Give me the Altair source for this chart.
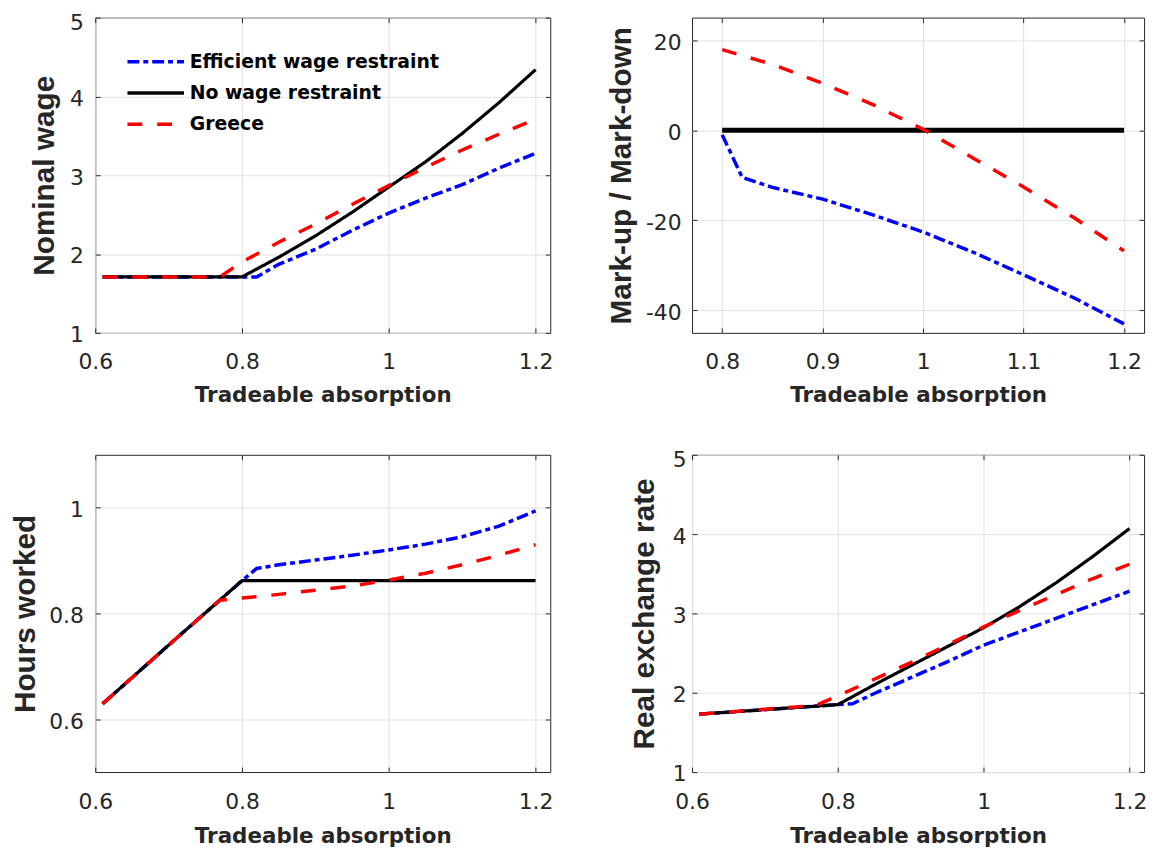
import altair as alt
import pandas as pd

SERIES = ["Efficient wage restraint", "No wage restraint", "Greece"]
COLORS = ["#0000ff", "#000000", "#ff0000"]
DASHES = [[12, 4, 5, 4], [1, 0], [15, 15]]

# Panel 1: Nominal wage
nw_eff_x = [0.61, 0.82, 0.85, 0.9, 0.95, 1.0, 1.05, 1.1, 1.15, 1.2]
nw_eff_y = [1.71, 1.71, 1.87, 2.06, 2.30, 2.52, 2.71, 2.88, 3.09, 3.28]
nw_no_x = [0.61, 0.8, 0.85, 0.9, 0.95, 1.0, 1.05, 1.1, 1.15, 1.2]
nw_no_y = [1.71, 1.71, 1.96, 2.23, 2.53, 2.85, 3.17, 3.53, 3.92, 4.34]
nw_gr_x = [0.61, 0.77, 0.8, 0.85, 0.9, 0.95, 1.0, 1.05, 1.1, 1.15, 1.2]
nw_gr_y = [1.71, 1.71, 1.9, 2.15, 2.38, 2.63, 2.87, 3.1, 3.32, 3.52, 3.71]

# Panel 2: Mark-up / Mark-down
mk_eff_x = [0.8, 0.82, 0.85, 0.9, 0.95, 1.0, 1.05, 1.1, 1.15, 1.2]
mk_eff_y = [-1.0, -10.5, -12.7, -15.3, -18.8, -22.6, -27.1, -32.1, -37.2, -43.0]
mk_no_x = [0.8, 0.9, 1.0, 1.1, 1.2]
mk_no_y = [0.0, 0.0, 0.0, 0.0, 0.0]
mk_gr_x = [0.8, 0.85, 0.9, 0.95, 1.0, 1.05, 1.1, 1.15, 1.2]
mk_gr_y = [17.9, 14.6, 10.4, 5.7, 0.2, -6.2, -12.6, -19.4, -26.8]

# Panel 3: Hours worked
hw_eff_x = [0.61, 0.7, 0.8, 0.82, 0.85, 0.9, 0.95, 1.0, 1.05, 1.1, 1.15, 1.2]
hw_eff_y = [0.629, 0.74, 0.862, 0.885, 0.892, 0.901, 0.91, 0.92, 0.931, 0.945, 0.965, 0.994]
hw_no_x = [0.61, 0.7, 0.8, 0.9, 1.0, 1.1, 1.2]
hw_no_y = [0.629, 0.74, 0.862, 0.862, 0.862, 0.862, 0.862]
hw_gr_x = [0.61, 0.7, 0.77, 0.8, 0.85, 0.9, 0.95, 1.0, 1.05, 1.1, 1.15, 1.2]
hw_gr_y = [0.629, 0.74, 0.825, 0.829, 0.836, 0.844, 0.852, 0.863, 0.876, 0.892, 0.91, 0.93]

# Panel 4: Real exchange rate
rx_eff_x = [0.61, 0.8, 0.82, 0.85, 0.9, 0.95, 1.0, 1.05, 1.1, 1.15, 1.2]
rx_eff_y = [1.73, 1.85, 1.86, 1.99, 2.19, 2.39, 2.6, 2.77, 2.94, 3.11, 3.28]
rx_no_x = [0.61, 0.8, 0.85, 0.9, 0.95, 1.0, 1.05, 1.1, 1.15, 1.2]
rx_no_y = [1.73, 1.85, 2.1, 2.34, 2.58, 2.82, 3.09, 3.39, 3.72, 4.07]
rx_gr_x = [0.61, 0.77, 0.8, 0.85, 0.9, 0.95, 1.0, 1.05, 1.1, 1.15, 1.2]
rx_gr_y = [1.73, 1.84, 1.96, 2.17, 2.38, 2.6, 2.83, 3.04, 3.24, 3.44, 3.62]

X_TICKS_A = [0.6, 0.8, 1, 1.2]
X_TICKS_B = [0.8, 0.9, 1, 1.1, 1.2]
XTITLE = "Tradeable absorption"


def frame(pairs):
    rows = []
    for name, (xs, ys) in zip(SERIES, pairs):
        for xv, yv in zip(xs, ys):
            rows.append({"series": name, "x": xv, "y": yv})
    return pd.DataFrame(rows)


LABEL_FONT = "DejaVu Sans"
TEXT_COLOR = "#262626"
GRID = "#e2e2e2"
TICK = dict(ticks=True, tickSize=5, tickWidth=1, tickColor="#262626", offset=-5)


def panel(df, ytitle, xdom, xvals, ydom, yvals, width, height,
          ylab_pad, ytitle_pad, top_value=None, legend=None, black_w=3.2,
          xlab_pad=19, xtitle_pad=12):
    if top_value is not None:
        loff = alt.condition(f"datum.value == {top_value}", alt.value(5), alt.value(2))
    else:
        loff = 2
    xscale = alt.Scale(domain=xdom, nice=False, zero=False)
    yscale = alt.Scale(domain=ydom, nice=False, zero=False)
    xaxis = alt.Axis(values=xvals, title=XTITLE, labelExpr="'' + datum.value",
                     labelPadding=xlab_pad, titlePadding=xtitle_pad, grid=True,
                     gridColor=GRID, domain=False, labelFlush=False,
                     labelOverlap=False, labelFont=LABEL_FONT, labelFontSize=22,
                     labelColor=TEXT_COLOR, titleFont="DejaVu Sans",
                     titleFontSize=21.6, titleFontWeight="bold", titleColor=TEXT_COLOR,
                     **TICK)
    yaxis = alt.Axis(values=yvals, title=ytitle, labelExpr="'' + datum.value",
                     labelPadding=ylab_pad, titlePadding=ytitle_pad, grid=True,
                     gridColor=GRID, domain=False,
                     labelFlush=False, labelOverlap=False, labelOffset=loff,
                     labelFont=LABEL_FONT, labelFontSize=22, labelColor=TEXT_COLOR,
                     titleFont="Liberation Sans", titleFontSize=30,
                     titleFontWeight="bold", titleColor=TEXT_COLOR, **TICK)
    color = alt.Color("series:N", scale=alt.Scale(domain=SERIES, range=COLORS),
                      legend=legend)
    dash = alt.StrokeDash("series:N", scale=alt.Scale(domain=SERIES, range=DASHES),
                          legend=legend)
    sw = alt.condition(alt.datum.series == "No wage restraint",
                       alt.value(black_w), alt.value(3.5))
    lines = (
        alt.Chart(df)
        .mark_line(clip=True)
        .encode(
            x=alt.X("x:Q", scale=xscale, axis=xaxis),
            y=alt.Y("y:Q", scale=yscale, axis=yaxis),
            color=color,
            strokeDash=dash,
            strokeWidth=sw,
        )
    )
    ticks_only = dict(labels=False, grid=False, domain=False, title=None, **TICK)
    mirror = (
        alt.Chart(df)
        .mark_point(opacity=0, size=1)
        .encode(
            x=alt.X("x:Q", scale=xscale,
                    axis=alt.Axis(orient="top", values=xvals, **ticks_only)),
            y=alt.Y("y:Q", scale=yscale,
                    axis=alt.Axis(orient="right", values=yvals, **ticks_only)),
        )
    )
    return (
        alt.layer(lines, mirror)
        .resolve_axis(x="independent", y="independent")
        .properties(width=width, height=height)
    )


legend = alt.Legend(orient="none", legendX=49.5, legendY=33, title=None,
                    symbolType="M-3,0H3", symbolSize=361, symbolStrokeWidth=3.5,
                    labelFont="DejaVu Sans", labelFontSize=19, labelFontWeight="bold",
                    labelColor="#000000", labelOffset=22.8, rowPadding=9.5,
                    padding=0, labelLimit=500)

p1 = panel(frame([(nw_eff_x, nw_eff_y), (nw_no_x, nw_no_y), (nw_gr_x, nw_gr_y)]),
           "Nominal wage", [0.6, 1.22], X_TICKS_A, [1, 5], [1, 2, 3, 4, 5],
           459, 318, 12, 10, top_value=5, legend=legend)
p2 = panel(frame([(mk_eff_x, mk_eff_y), (mk_no_x, mk_no_y), (mk_gr_x, mk_gr_y)]),
           "Mark-up / Mark-down", [0.77, 1.22], X_TICKS_B, [-45, 25], [-40, -20, 0, 20],
           456, 318, 11, 9, black_w=5)
p3 = panel(frame([(hw_eff_x, hw_eff_y), (hw_no_x, hw_no_y), (hw_gr_x, hw_gr_y)]),
           "Hours worked", [0.6, 1.22], X_TICKS_A, [0.5, 1.1], [0.6, 0.8, 1],
           459, 320, 12, 8, xlab_pad=20, xtitle_pad=13)
p4 = panel(frame([(rx_eff_x, rx_eff_y), (rx_no_x, rx_no_y), (rx_gr_x, rx_gr_y)]),
           "Real exchange rate", [0.6, 1.22], X_TICKS_A, [1, 5], [1, 2, 3, 4, 5],
           456, 320, 6, 13, top_value=5, xlab_pad=20, xtitle_pad=13)

chart = (
    alt.concat(p1, p2, p3, p4, columns=2,
               spacing={"row": 123, "column": 143}, bounds="flush")
    .resolve_scale(color="independent", strokeDash="independent")
    .resolve_legend(color="independent", strokeDash="independent")
    .properties(padding={"left": 2, "top": -1, "right": 5, "bottom": 5}, background="white")
    .configure_view(stroke="#262626", strokeWidth=1)
)

chart.save("out.html", embed_options={"renderer": "svg", "actions": False})
